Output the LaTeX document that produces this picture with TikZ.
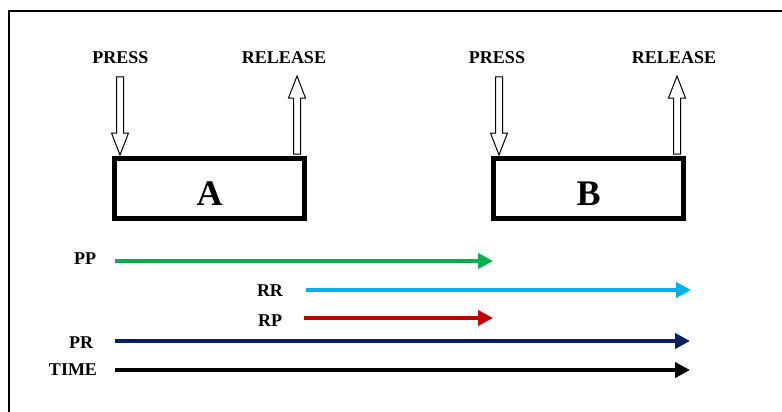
\documentclass[tikz,border=0pt]{standalone}
\usepackage{fontspec}
\setmainfont{Liberation Serif}
\usetikzlibrary{arrows.meta}
\definecolor{ppgreen}{RGB}{0,176,80}
\definecolor{rrblue}{RGB}{0,176,240}
\definecolor{rpred}{RGB}{192,0,0}
\definecolor{prnavy}{RGB}{0,32,96}
\begin{document}
\begin{tikzpicture}[x=1pt,y=-1pt,
  lbl/.style={font=\fontsize{18}{20}\selectfont\bfseries, inner sep=0pt},
  keybox/.style={draw, line width=5pt, minimum width=190pt, minimum height=60pt, inner sep=0pt,
    font=\fontsize{36}{40}\selectfont\bfseries},
  timeline/.style={line width=4pt, -{Triangle[length=15pt,width=15pt]}},
  outarrow/.pic={
    \draw[line width=1pt, fill=white, line join=miter]
      (-3.5,0) -- (3.5,0) -- (3.5,56) -- (8.5,56) -- (0,78) -- (-8.5,56) -- (-3.5,56) -- cycle;
  }]
\useasboundingbox (0,0) rectangle (782,412);
% frame (top and left edges visible)
\coordinate (ftl) at (9,11);
\coordinate (ftr) at (782,11);
\coordinate (fbl) at (9,412);
\draw[line width=1.5pt] (ftr) -- (ftl) -- (fbl);

% boxes
\node[keybox] (A) at (209.5,188.5) {\smash{\raisebox{-17pt}{A}}};
\node[keybox] (B) at (588.5,188.5) {\smash{\raisebox{-17pt}{B}}};

% top labels
\node[lbl] (pressA) at (120.5,58) {PRESS};
\node[lbl] (relA) at (284,58) {RELEASE};
\node[lbl] (pressB) at (497,58) {PRESS};
\node[lbl] (relB) at (674,58) {RELEASE};

% outline arrows
\pic at (120,77) {outarrow};
\pic[rotate=180] at (297,154) {outarrow};
\pic at (499,77) {outarrow};
\pic[rotate=180] at (677,154) {outarrow};

% timeline labels
\node[lbl] (PP) at (85,259) {PP};
\node[lbl] (RR) at (270,291) {RR};
\node[lbl] (RP) at (270,321) {RP};
\node[lbl] (PR) at (81,342.5) {PR};
\node[lbl] (TIME) at (73,369.5) {TIME};

% timeline arrow ends
\coordinate (ppS) at (115,261);   \coordinate (ppE) at (493,261);
\coordinate (rrS) at (306,290);   \coordinate (rrE) at (691,290);
\coordinate (rpS) at (304,318);   \coordinate (rpE) at (493,318);
\coordinate (prS) at (115,341);   \coordinate (prE) at (690,341);
\coordinate (tS) at (115,370);    \coordinate (tE) at (690,370);

\draw[timeline, ppgreen] (ppS) -- (ppE);
\draw[timeline, rrblue] (rrS) -- (rrE);
\draw[timeline, rpred] (rpS) -- (rpE);
\draw[timeline, prnavy] (prS) -- (prE);
\draw[timeline, black] (tS) -- (tE);
\end{tikzpicture}
\end{document}
